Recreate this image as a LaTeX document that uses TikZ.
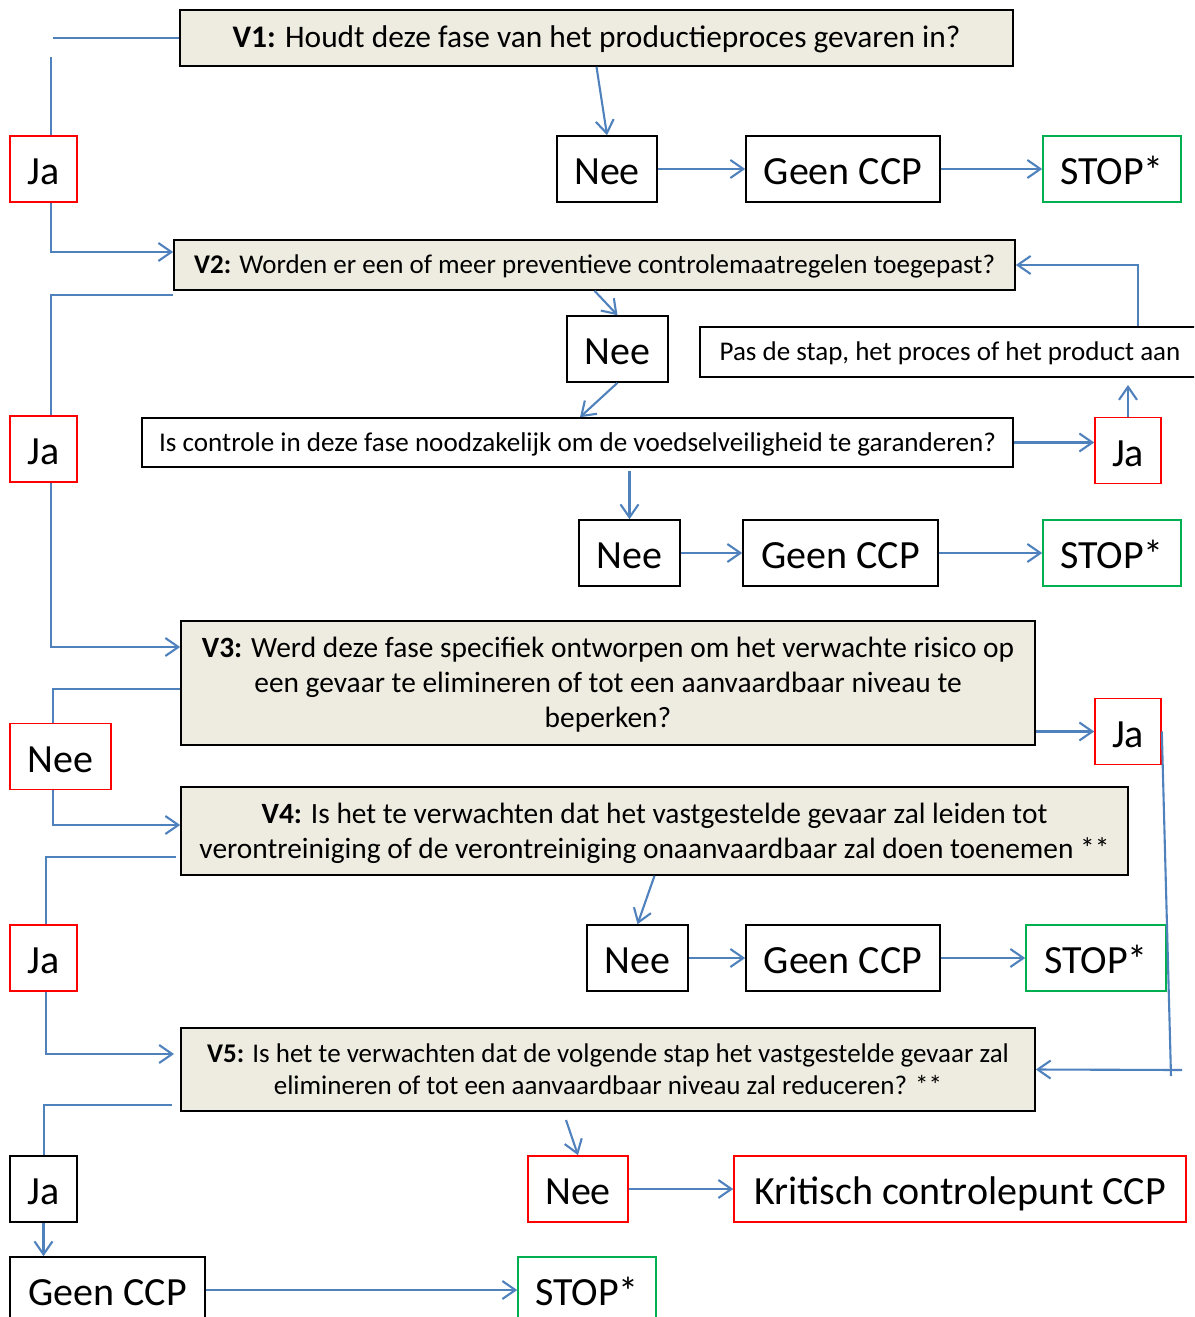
\documentclass[tikz,border=0pt]{standalone}
\usepackage{fontspec}
\setmainfont{Carlito}
\usepackage{xcolor}
\usepackage{tikz}
\usetikzlibrary{arrows.meta, positioning}

\definecolor{vraagbeige}{HTML}{EEECE1}
\definecolor{pijlblauw}{HTML}{4F81BD}
\definecolor{jarood}{HTML}{FF0000}
\definecolor{stopgroen}{HTML}{00B050}

\begin{document}
\begin{tikzpicture}[
    x=1pt, y=-1pt,
    every node/.style={draw, line width=1.6pt, inner sep=2pt},
    vraag/.style={fill=vraagbeige, align=center},
    regel/.style={text height=17.2pt, text depth=0pt},
    antw/.style={minimum height=66pt, text height=31pt, text depth=0pt, font=\fontsize{40}{48}\selectfont},
    ja/.style={antw, draw=jarood},
    stopp/.style={antw, draw=stopgroen},
    pijl/.style={pijlblauw, line width=2.1pt, -{Straight Barb[length=13pt, width=18pt]}},
    lijn/.style={pijlblauw, line width=2.1pt}
]
\useasboundingbox (0,0) rectangle (1194,1317);
\clip (0,0) rectangle (1194,1317);

% Vraag 1
\node[vraag, text height=19.4pt, text depth=0pt, minimum width=833pt, minimum height=56pt, font=\fontsize{31.4}{37}\selectfont] (v1) at (596.5,38) {\textbf{V1:} Houdt deze fase van het productieproces gevaren in?};
\node[ja, minimum width=67pt] (ja1) at (43.5,169) {Ja};
\node[antw, minimum width=100pt] (nee1) at (607,169) {Nee};
\node[antw, minimum width=194pt] (geen1) at (843,169) {Geen CCP};
\node[stopp, minimum width=138pt] (stop1) at (1112,169) {STOP*};

% Vraag 2
\node[vraag, regel, minimum width=841pt, minimum height=50pt, font=\fontsize{27}{32}\selectfont] (v2) at (594.5,265) {\textbf{V2:} Worden er een of meer preventieve controlemaatregelen toegepast?};
\node[antw, minimum width=101pt] (nee2) at (617.5,349) {Nee};
\node[regel, minimum width=500pt, minimum height=50pt, font=\fontsize{27}{32}\selectfont] (pas) at (950,352) {Pas de stap, het proces of het product aan};
\node[ja, minimum width=67pt] (ja2) at (43.5,449) {Ja};
\node[regel, minimum width=871pt, minimum height=49pt, font=\fontsize{27.1}{32}\selectfont] (ctrl) at (577.5,442.5) {Is controle in deze fase noodzakelijk om de voedselveiligheid te garanderen?};
\node[ja, minimum width=66pt] (ja3) at (1128,450.5) {Ja};
\node[antw, minimum width=101pt] (nee3) at (629.5,553) {Nee};
\node[antw, minimum width=195pt] (geen2) at (840.5,553) {Geen CCP};
\node[stopp, minimum width=138pt] (stop2) at (1112,553) {STOP*};

% Vraag 3
\node[vraag, text depth=2pt, minimum width=854pt, minimum height=124pt, font=\fontsize{29.4}{35}\selectfont] (v3) at (608,683) {\textbf{V3:} Werd deze fase specifiek ontworpen om het verwachte risico op\\ een gevaar te elimineren of tot een aanvaardbaar niveau te\\ beperken?};
\node[ja, minimum width=101pt] (nee4) at (60.5,756.5) {Nee};
\node[ja, minimum width=66pt] (ja4) at (1128,731.5) {Ja};

% Vraag 4
\node[vraag, text depth=0pt, minimum width=947pt, minimum height=88pt, font=\fontsize{29.4}{35}\selectfont] (v4) at (654.5,831) {\textbf{V4:} Is het te verwachten dat het vastgestelde gevaar zal leiden tot\\ verontreiniging of de verontreiniging onaanvaardbaar zal doen toenemen **};
\node[ja, minimum width=67pt] (ja5) at (43.5,958) {Ja};
\node[antw, minimum width=101pt] (nee5) at (637.5,958) {Nee};
\node[antw, minimum width=194pt] (geen3) at (843,958) {Geen CCP};
\node[stopp, minimum width=140pt] (stop3) at (1096,958) {STOP*};

% Vraag 5
\node[vraag, text depth=-4pt, minimum width=854pt, minimum height=83pt, font=\fontsize{27}{32}\selectfont] (v5) at (608,1069.5) {\textbf{V5:} Is het te verwachten dat de volgende stap het vastgestelde gevaar zal\\ elimineren of tot een aanvaardbaar niveau zal reduceren? **};
\node[antw, minimum width=67pt] (ja6) at (43.5,1189) {Ja};
\node[ja, minimum width=100pt] (nee6) at (578,1189) {Nee};
\node[ja, minimum width=452pt] (ccp) at (960,1189) {Kritisch controlepunt CCP};
\node[antw, minimum width=195pt] (geen4) at (107.5,1290) {Geen CCP};
\node[stopp, minimum width=138pt] (stop4) at (587,1290) {STOP*};

% losse eindpunten
\coordinate (k1) at (53,38);
\coordinate (k2) at (51,57);
\coordinate (k3) at (1128,385);
\coordinate (k4) at (1171,1076);
\coordinate (k5) at (1182,1070);
\coordinate (k6) at (176,857);
\coordinate (k7) at (172,1105);
\coordinate (k8) at (174,1054);
\coordinate (k9) at (566,1120);
\coordinate (k10) at (629.5,471);

% verbindingen V1
\draw[lijn] (v1.west) -- (k1);
\draw[lijn] (k2) -- (51,0 |- ja1.north);
\draw[pijl] (51,0 |- ja1.south) -- (51,252) -- (v2.west |- 0,252);
\draw[pijl] (v1.south) -- (nee1.north);
\draw[pijl] (nee1) -- (geen1);
\draw[pijl] (geen1) -- (stop1);

% verbindingen V2
\draw[lijn] (v2.west |- 0,295) -- (51,295) -- (51,0 |- ja2.north);
\draw[pijl] (51,0 |- ja2.south) -- (51,647) -- (v3.west |- 0,647);
\draw[pijl] (v2.south) -- (nee2.north);
\draw[pijl] (nee2.south) -- (580,0 |- ctrl.north);
\draw[pijl] (ctrl.east) -- (ja3.west |- ctrl.east);
\draw[pijl] (ja3.north) -- (k3);
\draw[pijl] (1138,0 |- pas.north) -- (1138,265) -- (v2.east);
\draw[pijl] (k10) -- (nee3.north);
\draw[pijl] (nee3) -- (geen2);
\draw[pijl] (geen2) -- (stop2);

% verbindingen V3
\draw[lijn] (v3.west |- 0,689) -- (53,689) -- (53,0 |- nee4.north);
\draw[pijl] (53,0 |- nee4.south) -- (53,825) -- (v4.west |- 0,825);
\draw[pijl] (v3.east |- ja4.west) -- (ja4.west);
\draw[lijn] (ja4.east) -- (k4);
\draw[pijl] (k5) -- (v5.east);

% verbindingen V4
\draw[lijn] (k6) -- (46,857) -- (46,0 |- ja5.north);
\draw[pijl] (46,0 |- ja5.south) -- (46,1054) -- (k8);
\draw[pijl] (v4.south) -- (nee5.north);
\draw[pijl] (nee5) -- (geen3);
\draw[pijl] (geen3) -- (stop3);

% verbindingen V5
\draw[lijn] (k7) -- (44,1105) -- (44,0 |- ja6.north);
\draw[pijl] (ja6.south) -- (ja6.south |- geen4.north);
\draw[pijl] (k9) -- (nee6.north);
\draw[pijl] (nee6) -- (ccp);
\draw[pijl] (geen4) -- (stop4);

\end{tikzpicture}
\end{document}
